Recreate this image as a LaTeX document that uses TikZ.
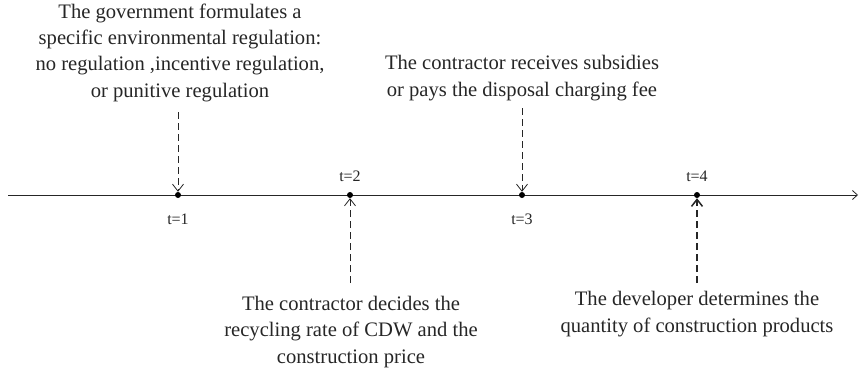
\documentclass[tikz,border=0pt]{standalone}
\usepackage{fontspec}
\setmainfont{Liberation Serif}
\usetikzlibrary{arrows.meta}
\begin{document}
\begin{tikzpicture}[x=1pt,y=-1pt,
  txt/.style={font=\fontsize{20.6}{26.2}\selectfont, align=center, inner sep=0pt, anchor=base, text=black!85},
  lbl/.style={font=\fontsize{16}{19}\selectfont, inner sep=0pt, text=black!85},
  dot/.style={circle, fill=black, inner sep=0pt, minimum size=6pt},
  axis/.style={draw=black!85, line width=0.8pt, -{Straight Barb[length=5pt,width=9pt,line width=0.8pt]}},
  evt/.style={draw=black!85, line width=0.8pt, dash pattern=on 7pt off 4pt, -{Straight Barb[length=7pt,width=11pt,line width=0.8pt]}},
  evtb/.style={evt, line width=1.5pt, -{Straight Barb[length=7pt,width=11pt,line width=1.5pt]}},
]
\useasboundingbox (0,0) rectangle (860,370);
\coordinate (L) at (8,195);
\coordinate (R) at (858,195);
\draw[axis] (L) -- (R);
\node[dot] (d1) at (178,195) {};
\node[dot] (d2) at (350,195) {};
\node[dot] (d3) at (522,195) {};
\node[dot] (d4) at (697,195) {};
\node[lbl] (l1) at (178,219) {t=1};
\node[lbl] (l2) at (350,176) {t=2};
\node[lbl] (l3) at (522,219) {t=3};
\node[lbl] (l4) at (697,176) {t=4};
\node[txt] (top1) at (180,97) {The government formulates a\\specific environmental regulation:\\no regulation ,incentive regulation,\\or punitive regulation};
\node[txt] (top3) at (522,96) {The contractor receives subsidies\\or pays the disposal charging fee};
\node[txt] (bot2) at (351,363) {The contractor decides the\\recycling rate of CDW and the\\construction price};
\node[txt] (bot4) at (697,332) {The developer determines the\\quantity of construction products};
\coordinate (s1) at (178,112);
\coordinate (s3) at (522,108);
\coordinate (s2) at (350,283);
\coordinate (s4) at (697,283);
\draw[evt] (s1) -- (d1);
\draw[evt] (s3) -- (d3);
\draw[evt] (s2) -- (d2);
\draw[evtb] (s4) -- (d4);
\end{tikzpicture}
\end{document}
